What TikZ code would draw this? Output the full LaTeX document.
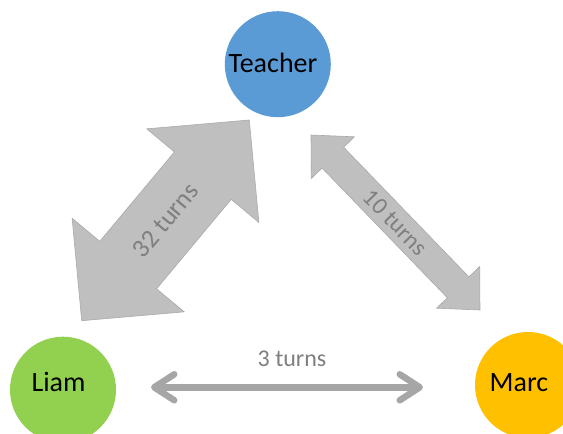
\documentclass[tikz,border=0pt]{standalone}
\usepackage{fontspec}
\setmainfont{Carlito}
\usetikzlibrary{calc,arrows.meta}
\definecolor{teacherblue}{RGB}{91,155,213}
\definecolor{liamgreen}{RGB}{146,208,80}
\definecolor{marcorange}{RGB}{255,192,0}
\definecolor{fatfill}{RGB}{191,191,191}
\definecolor{fatedge}{RGB}{170,170,170}
\definecolor{thingray}{RGB}{166,166,166}
\definecolor{labelgray}{RGB}{127,127,127}
\newcommand{\fatarrow}[5]{%
  \filldraw[fatarrowstyle] (#1)
    -- ($(#1)!#3!(#2)!#4!90:(#2)$)
    -- ($(#1)!#3!(#2)!#5!90:(#2)$)
    -- ($(#2)!#3!(#1)!#5!-90:(#1)$)
    -- ($(#2)!#3!(#1)!#4!-90:(#1)$)
    -- (#2)
    -- ($(#2)!#3!(#1)!#4!90:(#1)$)
    -- ($(#2)!#3!(#1)!#5!90:(#1)$)
    -- ($(#1)!#3!(#2)!#5!-90:(#2)$)
    -- ($(#1)!#3!(#2)!#4!-90:(#2)$)
    -- cycle;}
\tikzset{
  person/.style={circle, minimum size=106pt, inner sep=0pt, draw=none},
  nametext/.style={anchor=base, inner sep=0pt, font=\fontsize{28}{32}\selectfont, text=black},
  turnlabel/.style={inner sep=0pt, font=\fontsize{24}{28}\selectfont, text=labelgray},
  fatarrowstyle/.style={fill=fatfill, draw=fatedge, line width=0.6pt, line join=miter},
  thinarrow/.style={draw=thingray, line width=6.5pt,
    {Straight Barb[length=20pt,width=26pt,round]}-{Straight Barb[length=20pt,width=26pt,round]}}
}
\begin{document}
\begin{tikzpicture}[x=1pt,y=-1pt]
\useasboundingbox (0,0) rectangle (563,434);
\fill[white] (0,0) rectangle (563,434);
% people
\node[person, fill=teacherblue] (teacher) at (277.8,64.2) {};
\node[person, fill=liamgreen] (liam) at (63,389.7) {};
\node[person, fill=marcorange] (marc) at (528,385) {};
\node[nametext] (teachertext) at (273,72.7) {Teacher};
\node[nametext] (liamtext) at (58.5,391) {Liam};
\node[nametext] (marctext) at (519,391) {Marc};
% fat arrow Liam - Teacher
\coordinate (lt1) at (81.7,320.7);
\coordinate (lt2) at (249.3,120);
\fatarrow{lt1}{lt2}{72.5pt}{73pt}{37pt}
\node[turnlabel, rotate=50.1, font=\fontsize{26}{30}\selectfont] (lab32) at ($(lt1)!0.5!(lt2)$) {32 turns};
% fat arrow Teacher - Marc
\coordinate (tm1) at (311,135);
\coordinate (tm2) at (480,310);
\fatarrow{tm1}{tm2}{31.5pt}{30pt}{15pt}
\node[turnlabel, rotate=-46] (lab10) at ($(tm1)!0.5!(tm2)$) {10 turns};
% thin arrow Liam - Marc
\coordinate (lm1) at (151,387.3);
\coordinate (lm2) at (423,387.3);
\draw[thinarrow] (lm1) -- (lm2);
\node[turnlabel, anchor=base] (lab3) at (292,366) {3 turns};
\end{tikzpicture}
\end{document}
